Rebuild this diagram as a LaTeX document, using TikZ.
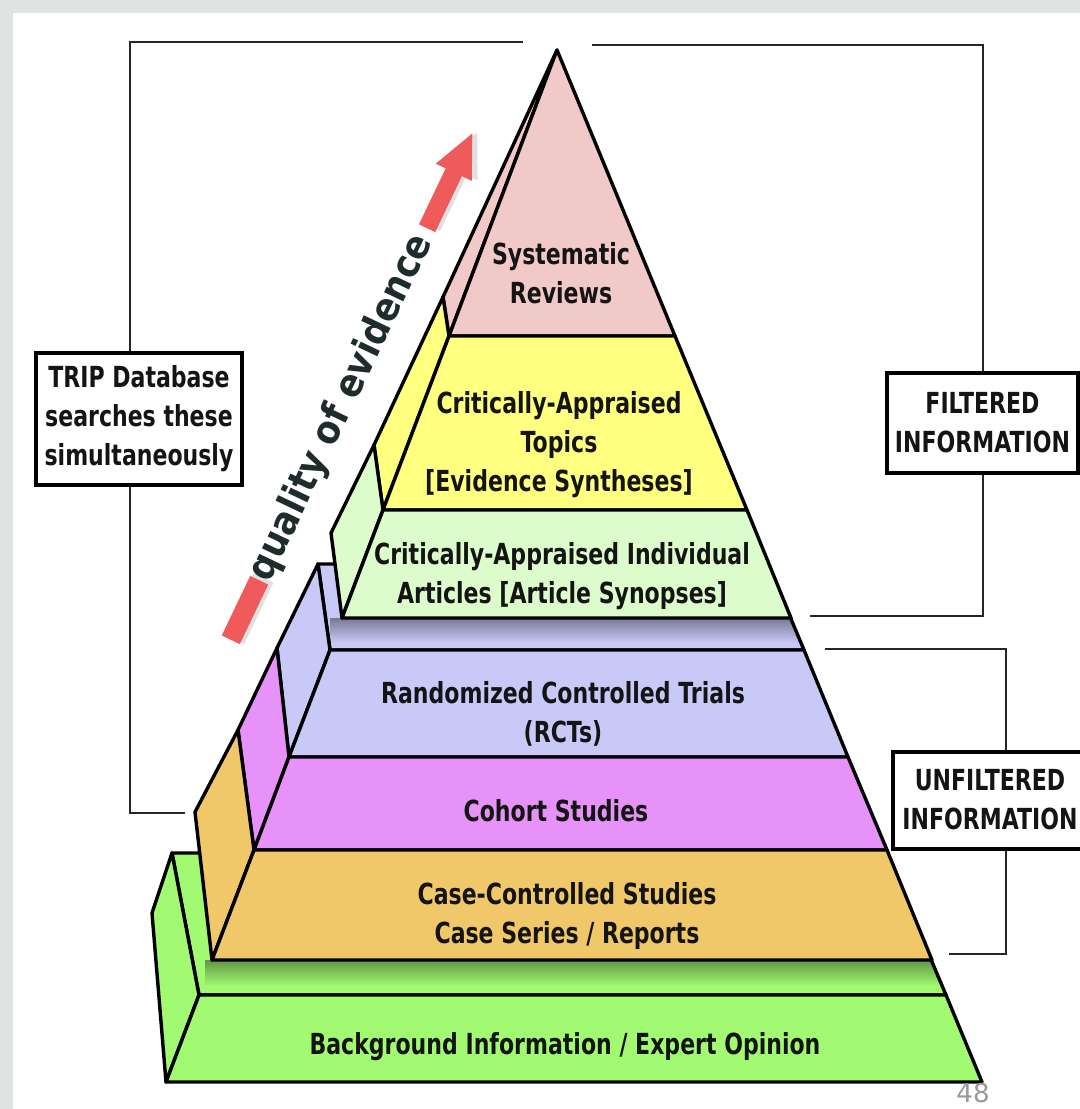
\documentclass[tikz,border=0pt]{standalone}
\usepackage{fontspec}
\setmainfont{DejaVu Sans}
\newfontfamily\narrowsans[FakeStretch=0.76]{DejaVu Sans}
\newfontfamily\qualfont[FakeStretch=0.9]{DejaVu Sans}
\definecolor{slidegray}{HTML}{DFE3E2}
\definecolor{srpink}{HTML}{F2C9C9}
\definecolor{catyellow}{HTML}{FFFF80}
\definecolor{cialgreen}{HTML}{DCFCCC}
\definecolor{rctblue}{HTML}{C9C9F8}
\definecolor{cohortpink}{HTML}{E692F8}
\definecolor{caseorange}{HTML}{F0C86A}
\definecolor{bggreen}{HTML}{A2FA72}
\definecolor{arrowred}{HTML}{EF5A5A}
\definecolor{qualtext}{HTML}{1E2C2C}
\begin{document}
\begin{tikzpicture}[
x=0.5pt, y=-0.5pt,
face/.style={draw=black, line width=1.7pt, line join=round},
lbl/.style={align=center, inner sep=0pt, text=black!92,
font=\narrowsans\bfseries\fontsize{14.5}{19.5}\selectfont},
infobox/.style={draw=black, line width=2pt, fill=white, inner sep=0pt,
align=center, text=black!92, font=\narrowsans\bfseries\fontsize{14.5}{19.5}\selectfont},
bracket/.style={draw=black!85, line width=1pt}
]
\fill[slidegray] (0,0) rectangle (1080,1109);
\fill[white] (13,13) rectangle (1080,1109);
\useasboundingbox (0,0) rectangle (1080,1109);

\coordinate (trTop) at (523,42);
\coordinate (trBot) at (185,813);
\coordinate (trX) at (130,0);
\coordinate (flTop) at (592,45);
\coordinate (flBot) at (810,616);
\coordinate (ufTop) at (825,649);
\coordinate (ufBot) at (949,954);

\node[infobox, minimum width=103pt, minimum height=66pt] (trip) at (139,419)
{TRIP Database\\searches these\\simultaneously};
\node[infobox, minimum width=95.5pt, minimum height=50pt] (filt) at (982.5,423)
{FILTERED\\INFORMATION};
\node[infobox, minimum width=113pt, minimum height=48.5pt] (unfilt) at (1006,800) {};
\node[lbl] (unfilttxt) at (990,800) {UNFILTERED\\INFORMATION};

\draw[bracket] (trTop) -| (trX |- trip.north);
\draw[bracket] (trBot) -| (trX |- trip.south);
\draw[bracket] (flTop) -| (filt.north);
\draw[bracket] (flBot) -| (filt.south);
\draw[bracket] (ufTop) -| (unfilt.north);
\draw[bracket] (ufBot) -| (unfilt.south);

\fill[bggreen] (172,853) -- (886,853) -- (946,995) -- (199,995) -- cycle;
\begin{scope}
\clip (172,853) -- (886,853) -- (946,995) -- (199,995) -- cycle;
\shade[top color=bggreen!60!black, bottom color=bggreen] (205,960) rectangle (950,986);
\end{scope}
\draw[face] (172,853) -- (886,853) -- (946,995) -- (199,995) -- cycle;
\filldraw[face, fill=bggreen] (172,853) -- (199,995) -- (166,1082) -- (152,913) -- cycle;
\filldraw[face, fill=bggreen] (199,995) -- (946,995) -- (982,1082) -- (166,1082) -- cycle;

\fill[rctblue] (318,564) -- (768,564) -- (804,650) -- (330,650) -- cycle;
\begin{scope}
\clip (318,564) -- (768,564) -- (804,650) -- (330,650) -- cycle;
\shade[top color=rctblue!60!black, bottom color=rctblue] (330,618) rectangle (810,643);
\end{scope}
\draw[face] (318,564) -- (768,564) -- (804,650) -- (330,650) -- cycle;
\filldraw[face, fill=rctblue] (318,564) -- (330,650) -- (289,757) -- (277,648) -- cycle;
\filldraw[face, fill=cohortpink] (277,648) -- (289,757) -- (254,850) -- (238,730) -- cycle;
\filldraw[face, fill=caseorange] (238,730) -- (254,850) -- (212,960) -- (195,812) -- cycle;
\filldraw[face, fill=rctblue] (330,650) -- (804,650) -- (848,757) -- (289,757) -- cycle;
\filldraw[face, fill=cohortpink] (289,757) -- (848,757) -- (887,850) -- (254,850) -- cycle;
\filldraw[face, fill=caseorange] (254,850) -- (887,850) -- (932,960) -- (212,960) -- cycle;

\filldraw[face, fill=srpink] (557,50) -- (449,336) -- (443,297) -- cycle;
\filldraw[face, fill=catyellow] (443,297) -- (449,336) -- (383,510) -- (374,445) -- cycle;
\filldraw[face, fill=cialgreen] (374,445) -- (383,510) -- (342,618) -- (331,533) -- cycle;
\filldraw[face, fill=srpink] (557,50) -- (675,336) -- (449,336) -- cycle;
\filldraw[face, fill=catyellow] (449,336) -- (675,336) -- (747,510) -- (383,510) -- cycle;
\filldraw[face, fill=cialgreen] (383,510) -- (747,510) -- (791,618) -- (342,618) -- cycle;

\node[lbl] (sysrev) at (561,273) {Systematic\\Reviews};
\node[lbl] (cat) at (559,445) {Critically-Appraised\\Topics\\{[}Evidence Syntheses{]}};
\node[lbl] (cia) at (562,576) {Critically-Appraised Individual\\Articles {[}Article Synopses{]}};
\node[lbl] (rct) at (563,714) {Randomized Controlled Trials\\(RCTs)};
\node[lbl] (cohort) at (556,811) {Cohort Studies};
\node[lbl] (casectl) at (567,916) {Case-Controlled Studies\\Case Series / Reports};
\node[lbl] (background) at (565,1047) {Background Information / Expert Opinion};

\begin{scope}[shift={(245,610)}, rotate=64.5]
\fill[black, opacity=0.12] (-31,-8) rectangle (37,14);
\fill[black, opacity=0.12] (426,-7) -- (488,-7) -- (488,-18) -- (531,4) -- (488,25) -- (488,13) -- (426,13) -- cycle;
\fill[arrowred] (-33,-10) rectangle (33,10);
\fill[arrowred] (423,-9) -- (485,-9) -- (485,-20) -- (528,0) -- (485,20) -- (485,9) -- (423,9) -- cycle;
\node[rotate=64.5, inner sep=0pt, text=qualtext, font=\qualfont\bfseries\fontsize{19.5}{23}\selectfont] (quality) at (224,0) {quality of evidence};
\end{scope}

\node[text=black!40, font=\fontsize{13}{13}\selectfont] (pagenum) at (973,1093) {48};
\end{tikzpicture}
\end{document}
